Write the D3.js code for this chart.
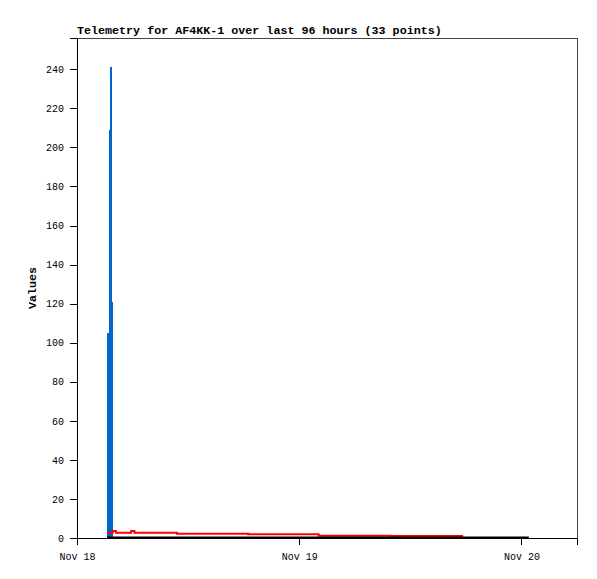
<!DOCTYPE html>
<html>
<head>
<meta charset="utf-8">
<script src="https://cdn.jsdelivr.net/npm/d3@7"></script>
<style>
  body { margin: 0; background: #fff; }
  text { font-family: "Liberation Mono", "DejaVu Sans Mono", monospace; }
</style>
</head>
<body>
<div id="chart"></div>
<script>
// hours after Nov 18 00:00
var blueHours = [3.38, 3.54, 3.65, 3.75];
var blueValues = [104.9, 208.7, 241, 120.9];

var redHours = [3.24, 3.85, 4.2, 5.85, 6.2, 10.8, 18.5, 26.1, 33.9, 41.7];
var redValues = [2.7, 3.6, 2.7, 3.6, 2.7, 2.2, 1.9, 1.2, 1.0, 1.0];

var blackHours = [3.24, 48.8];
var blackValues = [0.3, 0.3];

var yTicks = [0, 20, 40, 60, 80, 100, 120, 140, 160, 180, 200, 220, 240];
var titleText = "Telemetry for AF4KK-1 over last 96 hours (33 points)";

var base = new Date(2023, 10, 18);
function toDate(h) { return new Date(base.getTime() + h * 3600 * 1000); }

var margin = { top: 38, right: 20, bottom: 41, left: 77 },
  width = 597 - margin.left - margin.right,
  height = 579 - margin.top - margin.bottom;

var svg = d3.select("#chart").append("svg")
  .attr("width", 597).attr("height", 579);

var g = svg.append("g")
  .attr("transform", "translate(" + margin.left + "," + margin.top + ")");

var x = d3.scaleTime()
  .domain([toDate(0), toDate(54)])
  .range([0, width]);

var y = d3.scaleLinear().domain([0, 256]).range([height, 0]);

// frame
g.append("rect")
  .attr("width", width).attr("height", height)
  .attr("fill", "none").attr("stroke", "#444").attr("stroke-width", 1)
  .attr("shape-rendering", "crispEdges");

// blue bars
g.selectAll(".bar").data(blueHours).enter().append("rect")
  .attr("x", function (d) { return x(toDate(d)) - 1; })
  .attr("width", 2)
  .attr("y", function (d, i) { return y(blueValues[i]); })
  .attr("height", function (d, i) { return y(0) - y(blueValues[i]); })
  .attr("fill", "#0066cc")
  .attr("shape-rendering", "crispEdges");

// red line
var redLine = d3.line()
  .x(function (d) { return x(toDate(d)); })
  .y(function (d, i) { return y(redValues[i]); })
  .curve(d3.curveStepAfter);
g.append("path").datum(redHours)
  .attr("d", redLine).attr("fill", "none")
  .attr("stroke", "#ff0000").attr("stroke-width", 2);

// black line
var blackLine = d3.line()
  .x(function (d) { return x(toDate(d)); })
  .y(function (d, i) { return y(blackValues[i]); });
g.append("path").datum(blackHours)
  .attr("d", blackLine).attr("fill", "none")
  .attr("stroke", "#000").attr("stroke-width", 2);

// axes
var yAxis = g.append("g")
  .call(d3.axisLeft(y).tickValues(yTicks).tickSize(7).tickPadding(6));
var xAxis = g.append("g")
  .attr("transform", "translate(0," + height + ")")
  .call(d3.axisBottom(x).ticks(d3.timeDay.every(1)).tickFormat(d3.timeFormat("%b %d")).tickSize(7).tickPadding(8));

[xAxis, yAxis].forEach(function (a) {
  a.select(".domain").attr("stroke", "#000").attr("shape-rendering", "crispEdges");
  a.selectAll(".tick line").attr("stroke", "#000").attr("shape-rendering", "crispEdges");
  a.selectAll("text").style("font-size", "10px").attr("fill", "#000")
    .style("font-family", "'Liberation Mono', monospace");
});

// title
svg.append("text")
  .attr("x", margin.left).attr("y", 34)
  .style("font-size", "11.7px").style("font-weight", "bold")
  .text(titleText);

// y label
svg.append("text")
  .attr("transform", "translate(36," + (margin.top + height / 2) + ") rotate(-90)")
  .attr("text-anchor", "middle")
  .style("font-size", "11.7px").style("font-weight", "bold")
  .text("Values");
</script>
</body>
</html>
